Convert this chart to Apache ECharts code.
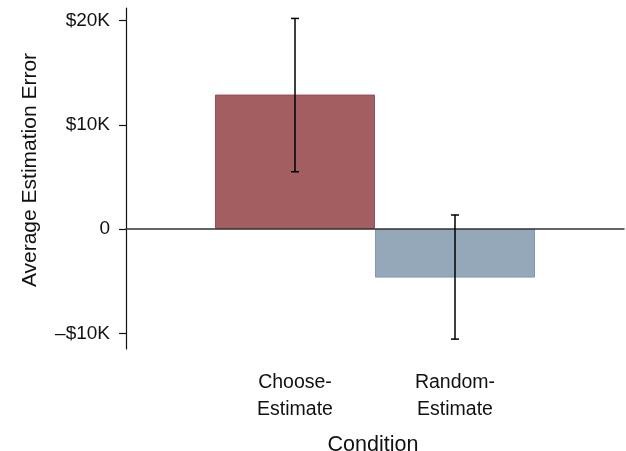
<!DOCTYPE html>
<html>
<head>
<meta charset="utf-8">
<style>
  html, body { margin: 0; padding: 0; background: #fff; }
  #chart { width: 626px; height: 451px; }
</style>
<script src="https://cdn.jsdelivr.net/npm/echarts@6/dist/echarts.min.js"></script>
</head>
<body>
<div id="chart"></div>
<script>
// Conditions and average estimation error (dollars), with error-bar bounds
const categories = ['Choose-\nEstimate', 'Random-\nEstimate'];
const meanError = [12900, -4650];
const errorLow = [5500, -10550];
const errorHigh = [20200, 1350];
const yTicks = [-10000, 0, 10000, 20000];
const barColors = ['#a35e61', '#94a8b9'];
const barBorders = ['#9a4d54', '#7e98b2'];

const FONT = '"Liberation Sans", Arial, sans-serif';
const Y_MIN = -11500, Y_MAX = 21200;

function fmtDollars(v) {
  if (v === 0) return '0';
  return (v < 0 ? '\u2013' : '') + '$' + Math.abs(v / 1000) + 'K';
}

const chart = echarts.init(document.getElementById('chart'), null, { renderer: 'canvas' });

chart.setOption({
  animation: false,
  backgroundColor: '#fff',
  grid: [
    { left: 126, right: 2, top: 8, bottom: 102 },
    { left: 215, right: 91, top: 8, bottom: 102 }
  ],
  xAxis: [
    {
      gridIndex: 0, type: 'value', min: 0, max: 1, z: 5,
      axisLine: { show: true, onZero: true, lineStyle: { color: '#333', width: 1.5 } },
      axisTick: { show: false }, axisLabel: { show: false }, splitLine: { show: false }
    },
    {
      gridIndex: 1, type: 'category', data: categories,
      axisLine: { show: false, onZero: false },
      axisTick: { show: false },
      splitLine: { show: false },
      axisLabel: {
        color: '#111', fontFamily: FONT, fontSize: 19.5, lineHeight: 27, margin: 20,
        interval: 0
      }
    }
  ],
  yAxis: [
    {
      gridIndex: 0, type: 'value', min: Y_MIN, max: Y_MAX,
      axisLine: { show: true, lineStyle: { color: '#111', width: 1.2 } },
      axisTick: { show: true, customValues: yTicks, length: 7, lineStyle: { color: '#111', width: 1.2 } },
      axisLabel: {
        customValues: yTicks, formatter: fmtDollars, color: '#111',
        fontFamily: FONT, fontSize: 19, margin: 16
      },
      splitLine: { show: false }
    },
    {
      gridIndex: 1, type: 'value', min: Y_MIN, max: Y_MAX, show: false
    }
  ],
  graphic: [
    {
      type: 'text', x: 30, y: 170, rotation: Math.PI / 2,
      style: {
        text: 'Average Estimation Error', fill: '#111', font: '21px ' + FONT,
        textAlign: 'center', textVerticalAlign: 'middle'
      }
    },
    {
      type: 'text', x: 373, y: 434,
      style: {
        text: 'Condition', fill: '#111', font: '21.5px ' + FONT,
        textAlign: 'center', textVerticalAlign: 'top'
      }
    }
  ],
  series: [
    {
      type: 'bar', xAxisIndex: 1, yAxisIndex: 1, barWidth: '100%',
      data: meanError.map((v, i) => ({
        value: v,
        itemStyle: { color: barColors[i], borderColor: barBorders[i], borderWidth: 1 }
      }))
    },
    {
      type: 'custom', xAxisIndex: 1, yAxisIndex: 1, z: 6,
      data: categories.map((c, i) => [i, errorLow[i], errorHigh[i]]),
      renderItem: function (params, api) {
        const lo = api.coord([api.value(0), api.value(1)]);
        const hi = api.coord([api.value(0), api.value(2)]);
        const half = 4;
        const style = { stroke: '#000', lineWidth: 1.5 };
        return {
          type: 'group',
          children: [
            { type: 'line', shape: { x1: lo[0], y1: lo[1], x2: hi[0], y2: hi[1] }, style: style },
            { type: 'line', shape: { x1: lo[0] - half, y1: lo[1], x2: lo[0] + half, y2: lo[1] }, style: style },
            { type: 'line', shape: { x1: hi[0] - half, y1: hi[1], x2: hi[0] + half, y2: hi[1] }, style: style }
          ]
        };
      }
    }
  ]
});
</script>
</body>
</html>
